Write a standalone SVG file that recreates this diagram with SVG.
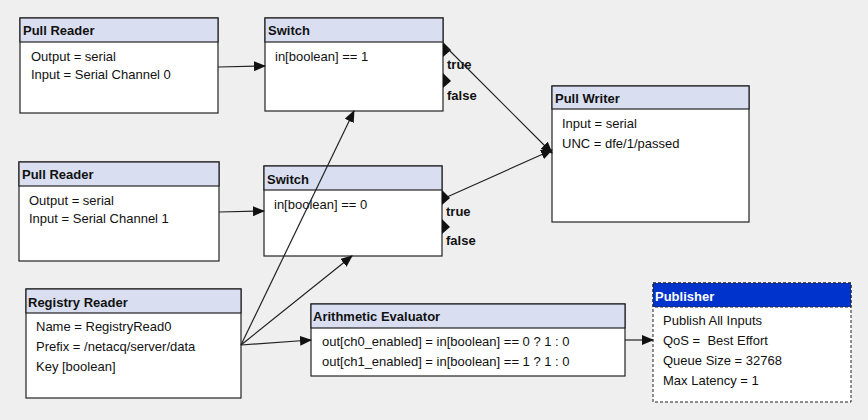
<svg xmlns="http://www.w3.org/2000/svg" width="868" height="420" viewBox="0 0 868 420">
<style>
text{font-family:"Liberation Sans",Arial,sans-serif;font-size:13px;fill:#111}
.t{font-weight:bold}
.box{fill:#fff;stroke:#222;stroke-width:1.2}
.hd{fill:#d9dff0;stroke:#222;stroke-width:1.2}
.c{stroke:#222;stroke-width:1.2;fill:none;marker-end:url(#a)}
.p{fill:#111}
</style>
<defs><marker id="a" markerWidth="12" markerHeight="10" refX="11" refY="5" orient="auto" markerUnits="userSpaceOnUse"><path d="M0,0L12,5L0,10z" fill="#111"/></marker></defs>
<rect width="868" height="420" fill="#efefef"/>
<g id="pr1"><rect class="box" x="20" y="18" width="198" height="95"/><rect class="hd" x="20" y="18" width="198" height="24"/><text class="t" x="23" y="35">Pull Reader</text><text x="31" y="61">Output = serial</text><text x="31" y="79">Input = Serial Channel 0</text></g>
<g id="sw1"><rect class="box" x="265" y="18" width="178" height="93"/><rect class="hd" x="265" y="18" width="178" height="24"/><text class="t" x="268" y="35">Switch</text><text x="275" y="61">in[boolean] == 1</text>
<path class="p" d="M443,42L451,50L443,57z"/><path class="p" d="M443,73L451,81L443,88z"/><text class="t" x="447" y="69">true</text><text class="t" x="447" y="100">false</text></g>
<g id="pw"><rect class="box" x="552" y="86" width="197" height="136"/><rect class="hd" x="552" y="86" width="197" height="23"/><text class="t" x="555" y="103">Pull Writer</text><text x="562" y="128">Input = serial</text><text x="562" y="148">UNC = dfe/1/passed</text></g>
<g id="pr2"><rect class="box" x="19" y="162" width="200" height="99"/><rect class="hd" x="19" y="162" width="200" height="24"/><text class="t" x="22" y="179">Pull Reader</text><text x="29" y="205">Output = serial</text><text x="29" y="223">Input = Serial Channel 1</text></g>
<g id="sw2"><rect class="box" x="264" y="166" width="178" height="90"/><rect class="hd" x="264" y="166" width="178" height="24"/><text class="t" x="267" y="184">Switch</text><text x="274" y="209">in[boolean] == 0</text>
<path class="p" d="M442,190L450,198L442,205z"/><path class="p" d="M442,219L450,227L442,234z"/><text class="t" x="446" y="216">true</text><text class="t" x="446" y="245">false</text></g>
<g id="rr"><rect class="box" x="26" y="289" width="215" height="109"/><rect class="hd" x="26" y="289" width="215" height="24"/><text class="t" x="28" y="307">Registry Reader</text><text x="36" y="331">Name = RegistryRead0</text><text x="36" y="351">Prefix = /netacq/server/data</text><text x="36" y="371">Key [boolean]</text></g>
<g id="ae"><rect class="box" x="311" y="304" width="314" height="72"/><rect class="hd" x="311" y="304" width="314" height="24"/><text class="t" x="313" y="321">Arithmetic Evaluator</text><text x="322" y="346">out[ch0_enabled] = in[boolean] == 0 ? 1 : 0</text><text x="322" y="366">out[ch1_enabled] = in[boolean] == 1 ? 1 : 0</text></g>
<g id="pub"><rect x="653" y="283" width="198" height="119" fill="#fff" stroke="#222" stroke-dasharray="3,2"/><rect x="653" y="283" width="198" height="24" fill="#0033cc" stroke="#222" stroke-dasharray="3,2"/><text class="t" x="655" y="301" style="fill:#fff">Publisher</text><text x="663" y="325">Publish All Inputs</text><text x="663" y="345" xml:space="preserve">QoS =  Best Effort</text><text x="663" y="365">Queue Size = 32768</text><text x="663" y="385">Max Latency = 1</text></g>
<g id="connectors">
<path class="c" d="M218,67L265,66"/>
<path class="c" d="M219,212L264,211"/>
<path class="c" d="M447,48L552,153"/>
<path class="c" d="M447,197L552,150"/>
<path class="c" d="M241,345L354,111"/>
<path class="c" d="M241,345L352,256"/>
<path class="c" d="M241,345L311,340"/>
<path class="c" d="M625,340L653,340"/>
</g>
</svg>
